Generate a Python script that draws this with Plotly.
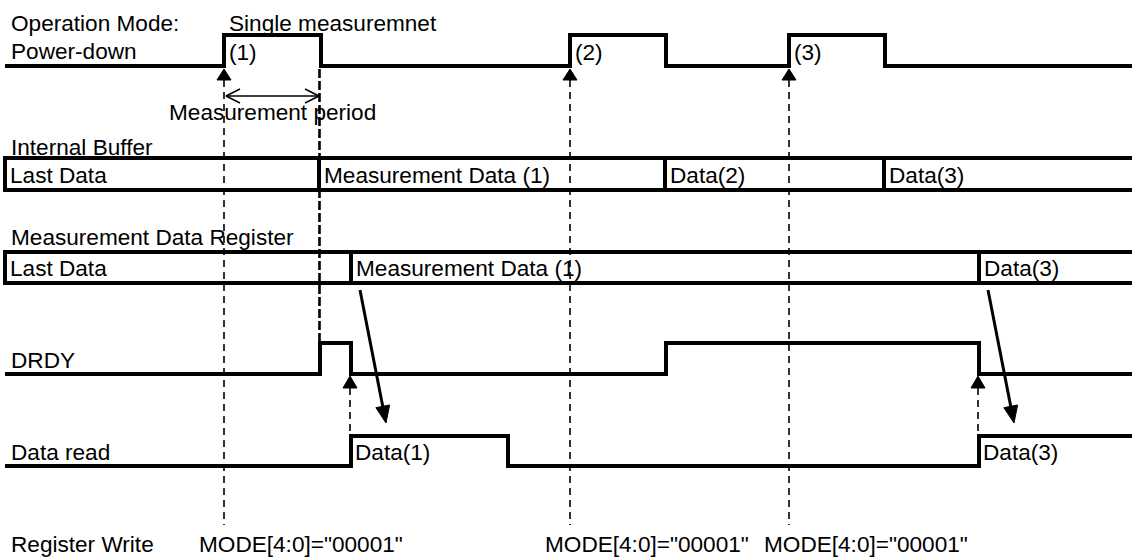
import math
import plotly.graph_objects as go

# ---------------- data (time axis in diagram units) ----------------
pd_edges = [224, 321, 570, 666, 789, 885]              # Power-down <-> Single measurement
pd_labels = ["(1)", "(2)", "(3)"]
buffer_edges = [319, 665, 884]
buffer_labels = ["Last Data", "Measurement Data (1)", "Data(2)", "Data(3)"]
register_edges = [351, 979]
register_labels = ["Last Data", "Measurement Data (1)", "Data(3)"]
drdy_edges = [320, 351, 666, 979]
read_edges = [351, 508, 979]
read_labels = ["Data(1)", "Data(3)"]
write_times = [224, 570, 789]
write_labels = ['MODE[4:0]="00001"', 'MODE[4:0]="00001"', 'MODE[4:0]="00001"']
read_events = [351, 979]                                # DRDY falls when data is read
row_names = ["Power-down", "Internal Buffer", "Measurement Data Register",
             "DRDY", "Data read", "Register Write"]
header_left = "Operation Mode:"
header_mode = "Single measuremnet"
period_label = "Measurement period"

# ---------------- layout constants ----------------
W, H = 1132, 558
X0, X1 = 5, 1140
PD_LO, PD_HI = 66, 35
BUF_T, BUF_B = 158, 190
REG_T, REG_B = 252, 283
DR_LO, DR_HI = 374, 343
RD_LO, RD_HI = 466, 436
WRITE_Y = 544
LW = 4
FONT = dict(family="Liberation Sans, Arial, sans-serif", size=22.6, color="black")

fig = go.Figure()


def add_line(xs, ys, width=LW, dash="solid"):
    fig.add_trace(go.Scatter(x=xs, y=ys, mode="lines", hoverinfo="skip",
                             line=dict(color="black", width=width, dash=dash),
                             showlegend=False))


def add_tri(tip_x, tip_y, dx, dy, length=12, half=7):
    n = math.hypot(dx, dy)
    ux, uy = dx / n, dy / n
    bx, by = tip_x - ux * length, tip_y - uy * length
    px, py = -uy, ux
    fig.add_trace(go.Scatter(
        x=[tip_x, bx + px * half, bx - px * half, tip_x],
        y=[tip_y, by + py * half, by - py * half, tip_y],
        mode="lines", fill="toself", fillcolor="black",
        line=dict(color="black", width=1), hoverinfo="skip", showlegend=False))


def step(edges, lo, hi):
    xs, ys, lvl = [X0], [lo], lo
    for e in edges:
        nxt = hi if lvl == lo else lo
        xs += [e, e]
        ys += [lvl, nxt]
        lvl = nxt
    xs.append(X1)
    ys.append(lvl)
    return xs, ys


def bus(edges, top, bot):
    xs = [X1, X0, X0, X1]
    ys = [top, top, bot, bot]
    for e in edges:
        xs += [None, e, e]
        ys += [None, top, bot]
    return xs, ys


# ---------------- dashed guide lines (drawn first) ----------------
DASH = "7px,5px"
for t in write_times:
    add_line([t, t], [PD_LO + 14, 525], width=1.6, dash=DASH)
# end of measurement -> DRDY rise
add_line([drdy_edges[0] - 0.5, drdy_edges[0] - 0.5], [PD_LO + 3, DR_HI], width=2.6, dash="9px,3px")
# data read -> DRDY fall
for t in read_events:
    add_line([t - 1, t - 1], [DR_LO + 14, RD_HI], width=1.6, dash=DASH)

# ---------------- signals ----------------
xs, ys = step(pd_edges, PD_LO, PD_HI)
add_line(xs, ys)
xs, ys = bus(buffer_edges, BUF_T, BUF_B)
add_line(xs, ys)
xs, ys = bus(register_edges, REG_T, REG_B)
add_line(xs, ys)
xs, ys = step(drdy_edges, DR_LO, DR_HI)
add_line(xs, ys)
xs, ys = step(read_edges, RD_LO, RD_HI)
add_line(xs, ys)

# ---------------- arrows ----------------
for t in write_times:
    add_tri(t, PD_LO + 3, 0, -1, length=11, half=7)
for t in read_events:
    add_tri(t - 1, DR_LO + 2, 0, -1, length=12, half=7)

# register -> data read diagonal arrows
for e in register_edges:
    sx, sy = e + 9, REG_B + 7
    ex, ey = e + 35, RD_HI - 13
    dx, dy = ex - sx, ey - sy
    n = math.hypot(dx, dy)
    add_line([sx, ex - dx / n * 14], [sy, ey - dy / n * 14], width=3)
    add_tri(ex, ey, dx, dy, length=17, half=7)

# measurement period double arrow
my = 96
a, b = pd_edges[0] + 2, pd_edges[1] - 2
add_line([a, b], [my, my], width=1.5)
add_line([a + 14, a, a + 14], [my - 7, my, my + 7], width=1.5)
add_line([b - 14, b, b - 14], [my - 7, my, my + 7], width=1.5)

# ---------------- text ----------------
def text(x, y, s, anchor="left"):
    fig.add_annotation(x=x, y=y, text=s, showarrow=False, xanchor=anchor,
                       yanchor="middle", font=FONT, xref="x", yref="y")

LX = 9
text(LX, 23, header_left)
text(pd_edges[0] + 3, 23, header_mode)
text(LX, 51, row_names[0])
for i, lab in enumerate(pd_labels):
    text(pd_edges[2 * i] + 3, 52, lab)
text((pd_edges[0] + pd_edges[1]) / 2, 112, period_label, anchor="center")

text(LX, 147, row_names[1])
buf_starts = [X0] + buffer_edges
for s, lab in zip(buf_starts, buffer_labels):
    text(s + 3, 175, lab)

text(LX, 237, row_names[2])
reg_starts = [X0] + register_edges
for s, lab in zip(reg_starts, register_labels):
    text(s + 3, 268, lab)

text(LX, 360, row_names[3])
text(LX, 452, row_names[4])
for s, lab in zip([read_edges[0], read_edges[2]], read_labels):
    text(s + 2, 452, lab)

text(LX, WRITE_Y, row_names[5])
for t, lab in zip(write_times, write_labels):
    text(t - 27, WRITE_Y, lab)

fig.update_layout(
    width=W, height=H, margin=dict(l=0, r=0, t=0, b=0),
    paper_bgcolor="white", plot_bgcolor="white", showlegend=False,
    xaxis=dict(range=[0, W], visible=False, fixedrange=True),
    yaxis=dict(range=[H, 0], visible=False, fixedrange=True),
)

fig.write_html("out.html", config={"displayModeBar": False},
               post_script="document.body.style.margin='0';document.body.style.overflow='hidden';")
